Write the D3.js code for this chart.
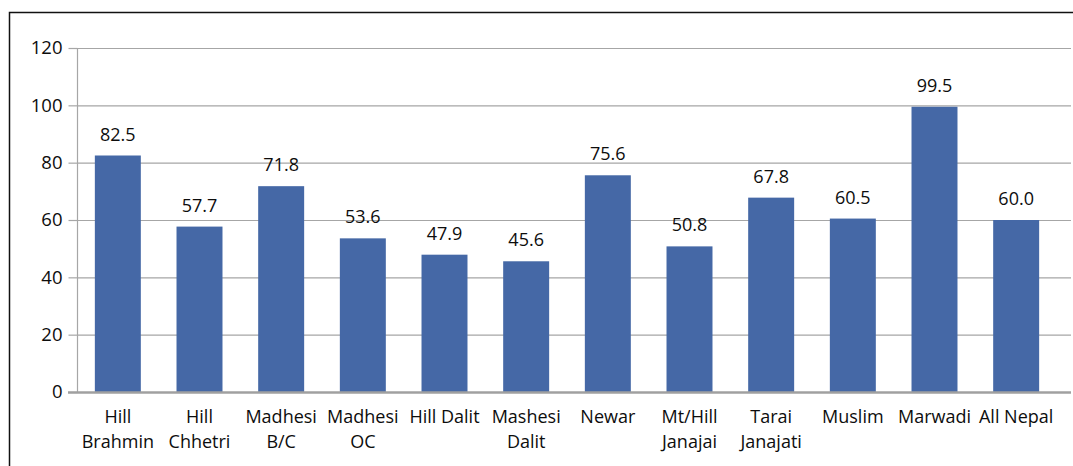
<!DOCTYPE html>
<html><head><meta charset="utf-8">
<script src="https://cdn.jsdelivr.net/npm/d3@7"></script>
<style>
html,body{margin:0;padding:0;background:#fff;}
svg{display:block;font-family:"Open Sans",sans-serif;}
</style></head>
<body>
<svg id="c" width="1073" height="466"></svg>
<script>
const categories = [["Hill","Brahmin"],["Hill","Chhetri"],["Madhesi","B/C"],["Madhesi","OC"],["Hill Dalit"],["Mashesi","Dalit"],["Newar"],["Mt/Hill","Janajai"],["Tarai","Janajati"],["Muslim"],["Marwadi"],["All Nepal"]];
const values = [82.5,57.7,71.8,53.6,47.9,45.6,75.6,50.8,67.8,60.5,99.5,60.0];
const yTicks = [0,20,40,60,80,100,120];

const svg = d3.select("#c");
const x0 = 77, x1 = 1057, gridEnd = 1071;
const yBottom = 392, yTop = 48;
const textColor = "#0d0d0d";

// frame (clipped at right/bottom)
svg.append("rect").attr("x",9.5).attr("y",12.5).attr("width",1100).attr("height",500)
  .attr("fill","none").attr("stroke","#111").attr("stroke-width",1.5);

const keys = categories.map((d,i)=>i);
const x = d3.scaleBand().domain(keys).range([x0,x1]).paddingInner(0.437).paddingOuter(0.2185);
const y = d3.scaleLinear().domain([0,120]).range([yBottom,yTop]);

// gridlines
svg.append("g").selectAll("line").data(yTicks.filter(t=>t>0)).join("line")
  .attr("x1",x0).attr("x2",gridEnd).attr("y1",d=>y(d)+0.5).attr("y2",d=>y(d)+0.5)
  .attr("stroke","#a6a6a6").attr("stroke-width",1.2);

// y axis
const ya = svg.append("g").attr("transform",`translate(${x0+0.5},0)`)
  .call(d3.axisLeft(y).tickValues(yTicks).tickSize(9).tickPadding(6).tickFormat(d3.format("d")));
ya.select(".domain").attr("stroke","#a6a6a6").attr("stroke-width",1.2).attr("d",`M0,${y(120)}V${y(0)}`);
ya.selectAll(".tick line").attr("stroke","#a6a6a6").attr("stroke-width",1.2);
ya.selectAll(".tick text").attr("font-size",18.5).attr("fill",textColor).attr("font-family","Open Sans");

// bars
svg.append("g").selectAll("rect").data(values).join("rect")
  .attr("x",(d,i)=>x(i)).attr("width",x.bandwidth())
  .attr("y",d=>y(d)).attr("height",d=>y(0)-y(d))
  .attr("fill","#4568a6");

// baseline
svg.append("line").attr("x1",x0-9).attr("x2",gridEnd).attr("y1",y(0)+0.5).attr("y2",y(0)+0.5)
  .attr("stroke","#a0a0a0").attr("stroke-width",2.5);

// value labels
svg.append("g").selectAll("text").data(values).join("text")
  .attr("x",(d,i)=>x(i)+x.bandwidth()/2).attr("y",d=>y(d)-15)
  .attr("text-anchor","middle").attr("font-size",18).attr("fill",textColor)
  .text(d=>d.toFixed(1));

// category labels
const cg = svg.append("g").selectAll("text").data(categories).join("text")
  .attr("x",(d,i)=>x(i)+x.bandwidth()/2).attr("y",423)
  .attr("text-anchor","middle").attr("font-size",18).attr("fill",textColor);
cg.selectAll("tspan").data(d=>d).join("tspan")
  .attr("x",function(){return this.parentNode.getAttribute("x");})
  .attr("dy",(d,i)=>i===0?0:25).text(d=>d);
</script>
</body></html>
